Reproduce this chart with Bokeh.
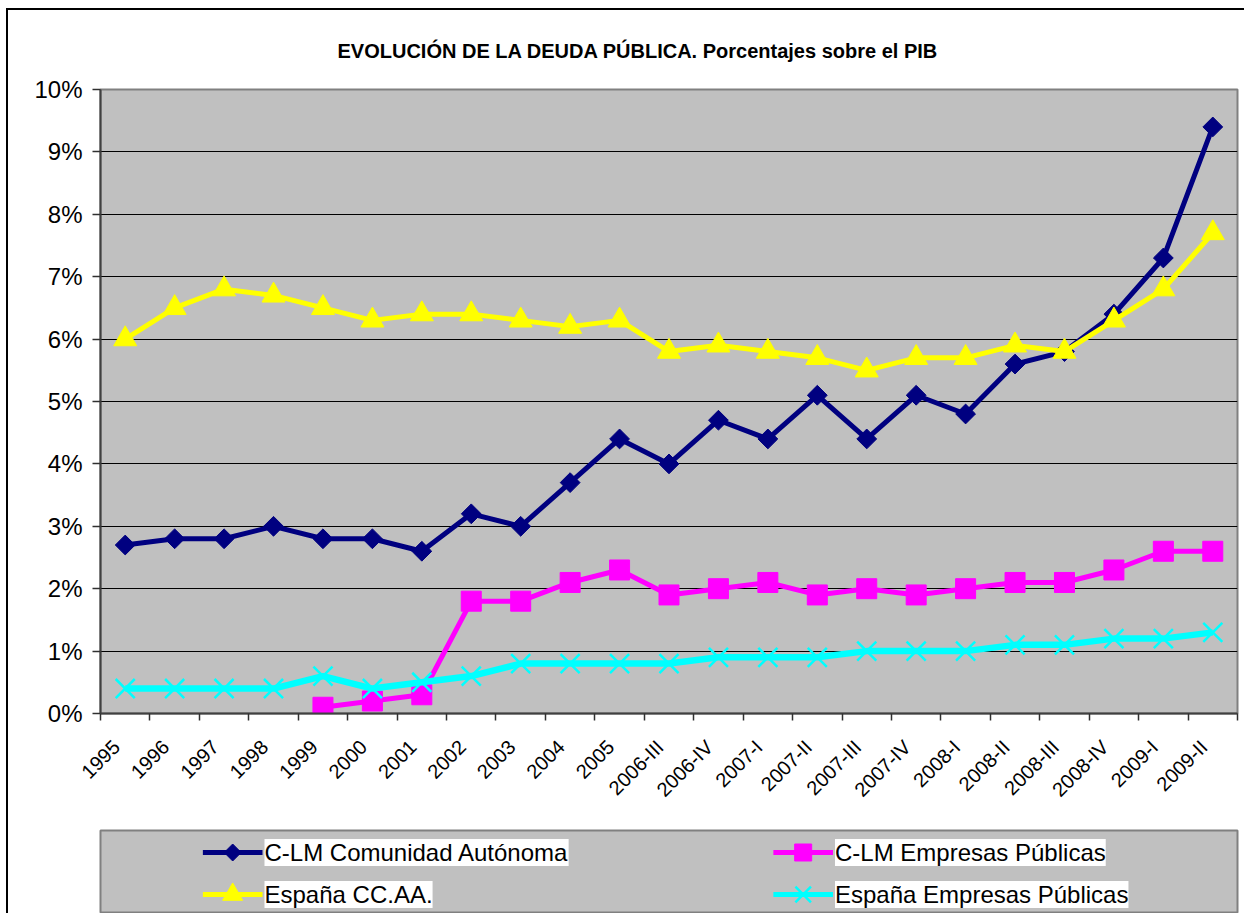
import math
import numpy as np
from bokeh.plotting import figure
from bokeh.layouts import column
from bokeh.models import Range1d, FixedTicker, Label
from bokeh.embed import file_html
from bokeh.resources import INLINE

# ---------------- data ----------------
categories = ["1995", "1996", "1997", "1998", "1999", "2000", "2001", "2002", "2003",
              "2004", "2005", "2006-III", "2006-IV", "2007-I", "2007-II", "2007-III",
              "2007-IV", "2008-I", "2008-II", "2008-III", "2008-IV", "2009-I", "2009-II"]

clm_ca = [2.7, 2.8, 2.8, 3.0, 2.8, 2.8, 2.6, 3.2, 3.0, 3.7, 4.4, 4.0, 4.7, 4.4, 5.1,
          4.4, 5.1, 4.8, 5.6, 5.8, 6.4, 7.3, 9.4]
clm_ep = [np.nan, np.nan, np.nan, np.nan, 0.1, 0.2, 0.3, 1.8, 1.8, 2.1, 2.3, 1.9, 2.0,
          2.1, 1.9, 2.0, 1.9, 2.0, 2.1, 2.1, 2.3, 2.6, 2.6]
esp_ca = [6.0, 6.5, 6.8, 6.7, 6.5, 6.3, 6.4, 6.4, 6.3, 6.2, 6.3, 5.8, 5.9, 5.8, 5.7,
          5.5, 5.7, 5.7, 5.9, 5.8, 6.3, 6.8, 7.7]
esp_ep = [0.4, 0.4, 0.4, 0.4, 0.6, 0.4, 0.5, 0.6, 0.8, 0.8, 0.8, 0.8, 0.9, 0.9, 0.9,
          1.0, 1.0, 1.0, 1.1, 1.1, 1.2, 1.2, 1.3]

y_ticks = [0, 1, 2, 3, 4, 5, 6, 7, 8, 9, 10]
y_tick_labels = ["0%", "1%", "2%", "3%", "4%", "5%", "6%", "7%", "8%", "9%", "10%"]

series_names = ["C-LM Comunidad Autónoma", "C-LM Empresas Públicas",
                "España CC.AA.", "España Empresas Públicas"]
title_text = "EVOLUCIÓN DE LA DEUDA PÚBLICA. Porcentajes sobre el PIB"

NAVY, MAGENTA, YELLOW, CYAN = "#000080", "#FF00FF", "#FFFF00", "#00FFFF"
FONT = "Liberation Sans"

x = np.arange(len(categories))
LABEL_SHIFT = 0.18  # rotated labels end slightly left of the category centre

# ---------------- main chart ----------------
p = figure(width=1236, height=812, x_range=Range1d(-0.5, len(categories) - 0.5),
           y_range=Range1d(0, 10), output_backend="svg", toolbar_location=None,
           min_border_left=89, min_border_right=7, min_border_top=78, min_border_bottom=109,
           background_fill_color="#C0C0C0", border_fill_color="white",
           outline_line_color="#808080", outline_line_width=2, title=title_text)

p.title.text_font = "Liberation Sans Narrow, Liberation Sans"
p.title.text_font_size = "20px"
p.title.text_font_style = "bold"
p.title.text_color = "black"
p.title.align = "left"
p.title.offset = 237
p.title.standoff = 55

# x axis
label_pos = [float(i) - LABEL_SHIFT for i in x]
p.xaxis.ticker = FixedTicker(ticks=label_pos,
                             minor_ticks=[i - 0.5 for i in range(len(categories) + 1)])
p.xaxis.major_label_overrides = {lp: c for lp, c in zip(label_pos, categories)}
p.xaxis.major_label_orientation = math.pi / 4
p.xaxis.major_tick_line_color = None
p.xaxis.minor_tick_in = 0
p.xaxis.minor_tick_out = 7
p.xaxis.minor_tick_line_color = "#303030"
p.xaxis.minor_tick_line_width = 1.5
p.xaxis.major_label_text_font = FONT
p.xaxis.major_label_text_font_size = "20px"
p.xaxis.major_label_text_color = "black"
p.xaxis.major_label_standoff = 23
p.xaxis.axis_line_color = "#404040"
p.xaxis.axis_line_width = 2

# y axis
p.yaxis.ticker = FixedTicker(ticks=y_ticks, minor_ticks=[])
p.yaxis.major_label_overrides = {t: l for t, l in zip(y_ticks, y_tick_labels)}
p.yaxis.major_tick_in = 0
p.yaxis.major_tick_out = 8
p.yaxis.major_tick_line_color = "#303030"
p.yaxis.major_tick_line_width = 1.5
p.yaxis.minor_tick_line_color = None
p.yaxis.major_label_text_font = FONT
p.yaxis.major_label_text_font_size = "24px"
p.yaxis.major_label_text_color = "black"
p.yaxis.major_label_standoff = 10
p.yaxis.axis_line_color = "#404040"
p.yaxis.axis_line_width = 2

p.xgrid.visible = False
p.ygrid.grid_line_color = "black"
p.ygrid.grid_line_width = 1

# series
p.line(x, clm_ca, line_color=NAVY, line_width=5)
p.scatter(x, clm_ca, marker="square", angle=math.pi / 4, size=14,
          fill_color=NAVY, line_color=NAVY)

p.line(x, clm_ep, line_color=MAGENTA, line_width=5)
p.scatter(x, clm_ep, marker="square", size=20, fill_color=MAGENTA, line_color=MAGENTA)

p.line(x, esp_ca, line_color=YELLOW, line_width=5)
p.scatter(x, esp_ca, marker="triangle", size=23, fill_color=YELLOW, line_color=YELLOW)

p.line(x, esp_ep, line_color=CYAN, line_width=6.5)
p.scatter(x, esp_ep, marker="x", size=27, line_color=CYAN, line_width=2.5)

# ---------------- legend box ----------------
q = figure(width=1236, height=91, x_range=Range1d(100, 1244), y_range=Range1d(913, 830),
           output_backend="svg", toolbar_location=None,
           min_border_left=92, min_border_right=0, min_border_top=8, min_border_bottom=0,
           background_fill_color="#C0C0C0", border_fill_color="white",
           outline_line_color="#808080", outline_line_width=2)
q.axis.visible = False
q.grid.visible = False

leg_colors = [NAVY, MAGENTA, YELLOW, CYAN]
leg_x = [203, 777, 203, 777]
leg_y = [852, 852, 894, 894]
for name, col, lx, ly, k in zip(series_names, leg_colors, leg_x, leg_y, range(4)):
    q.line([lx, lx + 60], [ly, ly], line_color=col, line_width=5)
    if k == 0:
        q.scatter([lx + 30], [ly], marker="square", angle=math.pi / 4, size=12,
                  fill_color=col, line_color=col)
    elif k == 1:
        q.scatter([lx + 30], [ly], marker="square", size=17, fill_color=col, line_color=col)
    elif k == 2:
        q.scatter([lx + 30], [ly], marker="triangle", size=20, fill_color=col, line_color=col)
    else:
        q.scatter([lx + 30], [ly], marker="x", size=22, line_color=col, line_width=2.5)
    q.add_layout(Label(x=lx + 62, y=ly, text=name, text_baseline="middle",
                       text_font=FONT, text_font_size="24px", text_color="black",
                       background_fill_color="white"))

layout = column(p, q, margin=(8, 0, 0, 6),
                styles={"border-left": "2px solid black", "border-top": "2px solid black"})
open("out.html", "w").write(file_html(layout, INLINE))
